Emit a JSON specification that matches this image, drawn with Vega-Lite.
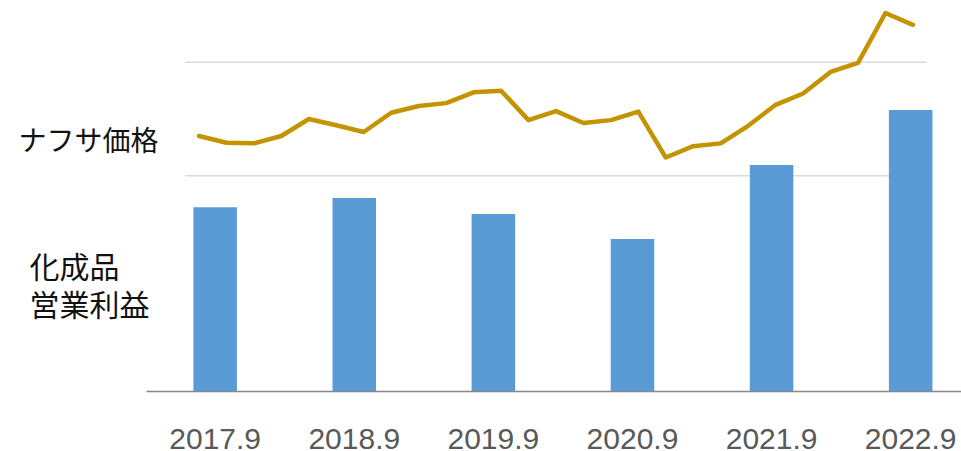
{
  "$schema": "https://vega.github.io/schema/vega-lite/v6.json",
  "autosize": "none",
  "width": 815,
  "height": 391,
  "padding": {"left": 146, "top": 0, "right": 0, "bottom": 60},
  "background": "white",
  "config": {"view": {"stroke": null}},
  "datasets": {
    "profit": [
      {"period": "2017.9", "profit": 187.9},
      {"period": "2018.9", "profit": 197.4},
      {"period": "2019.9", "profit": 181.1},
      {"period": "2020.9", "profit": 155.5},
      {"period": "2021.9", "profit": 231.2},
      {"period": "2022.9", "profit": 287.5}
    ],
    "naphtha": [
      {"n": 1, "price": 47.0}, {"n": 2, "price": 45.8}, {"n": 3, "price": 45.7},
      {"n": 4, "price": 47.0}, {"n": 5, "price": 50.0}, {"n": 6, "price": 48.9},
      {"n": 7, "price": 47.7}, {"n": 8, "price": 51.1}, {"n": 9, "price": 52.3},
      {"n": 10, "price": 52.8}, {"n": 11, "price": 54.7}, {"n": 12, "price": 55.0},
      {"n": 13, "price": 49.8}, {"n": 14, "price": 51.4}, {"n": 15, "price": 49.3},
      {"n": 16, "price": 49.8}, {"n": 17, "price": 51.3}, {"n": 18, "price": 43.2},
      {"n": 19, "price": 45.2}, {"n": 20, "price": 45.7}, {"n": 21, "price": 48.8},
      {"n": 22, "price": 52.5}, {"n": 23, "price": 54.5}, {"n": 24, "price": 58.3},
      {"n": 25, "price": 59.9}, {"n": 26, "price": 68.7}, {"n": 27, "price": 66.6}
    ],
    "grid": [{"v": 40}, {"v": 60}]
  },
  "layer": [
    {
      "data": {"name": "grid"},
      "mark": {"type": "rule", "color": "#D9D9D9", "strokeWidth": 1.5},
      "encoding": {
        "x": {"datum": 0.5, "type": "quantitative",
              "scale": {"domain": [-0.93, 28.75], "nice": false, "zero": false},
              "axis": null},
        "x2": {"datum": 27.5},
        "y": {
          "field": "v", "type": "quantitative",
          "scale": {"domain": [2, 71], "nice": false, "zero": false},
          "axis": {
            "title": null, "orient": "left", "values": [45.9],
            "labelExpr": "'ナフサ価格'",
            "ticks": false, "tickSize": 0, "domain": false, "grid": false,
            "labelAlign": "left", "labelBaseline": "middle", "labelPadding": 128,
            "labelFont": "Noto Sans CJK JP", "labelFontSize": 28, "labelColor": "#111111",
            "labelOverlap": false
          }
        }
      }
    },
    {
      "data": {"name": "profit"},
      "mark": {"type": "bar", "color": "#5B9BD5"},
      "encoding": {
        "x": {
          "field": "period", "type": "ordinal", "sort": null,
          "scale": {"paddingInner": 0.687, "paddingOuter": 0.273, "align": 0.624},
          "axis": {
            "title": null, "orient": "bottom", "ticks": false, "tickSize": 0,
            "domainColor": "#888888", "domainWidth": 1.5, "labelAngle": 0,
            "labelPadding": 33, "labelFont": "Liberation Sans", "labelFontSize": 30,
            "labelColor": "#595959", "grid": false
          }
        },
        "y": {
          "field": "profit", "type": "quantitative",
          "scale": {"domain": [0, 400], "nice": false},
          "axis": {
            "title": null, "orient": "left", "values": [125.8, 86.5],
            "labelExpr": "datum.value > 100 ? '化成品' : '営業利益'",
            "ticks": false, "tickSize": 0, "domain": false, "grid": false,
            "labelAlign": "left", "labelBaseline": "middle", "labelPadding": 117,
            "labelFont": "Noto Sans CJK JP", "labelFontSize": 30, "labelColor": "#111111",
            "labelOverlap": false
          }
        }
      }
    },
    {
      "data": {"name": "naphtha"},
      "mark": {"type": "line", "color": "#C39400", "strokeWidth": 4.5, "strokeCap": "round", "strokeJoin": "round"},
      "encoding": {
        "x": {"field": "n", "type": "quantitative",
              "scale": {"domain": [-0.93, 28.75], "nice": false, "zero": false},
              "axis": null},
        "y": {"field": "price", "type": "quantitative",
              "scale": {"domain": [2, 71], "nice": false, "zero": false},
              "axis": null}
      }
    }
  ],
  "resolve": {"scale": {"x": "independent", "y": "independent"}}
}
